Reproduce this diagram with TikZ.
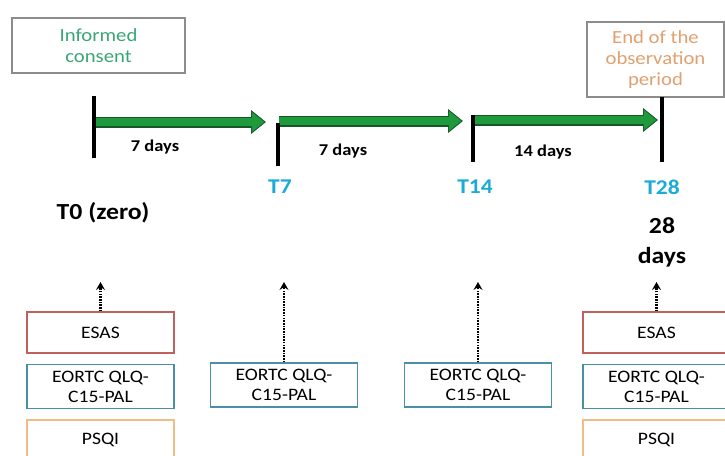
\documentclass[tikz,border=0pt]{standalone}
\usepackage{fontspec}
\setmainfont[FakeStretch=1.12]{Carlito}
\usetikzlibrary{positioning,arrows.meta}
\definecolor{consentgreen}{HTML}{3AA676}
\definecolor{endorange}{HTML}{E0A070}
\definecolor{tcyan}{HTML}{1AACD6}
\definecolor{spangreen}{HTML}{1E9A3C}
\definecolor{spandark}{HTML}{14582A}
\definecolor{esasred}{HTML}{C0605C}
\definecolor{qlqblue}{HTML}{4A8FA6}
\definecolor{psqiorange}{HTML}{F2BC88}
\definecolor{framegray}{HTML}{8C8C8C}

\begin{document}
\begin{tikzpicture}[x=1pt, y=-1pt,
		tickline/.style={line width=4pt},
		spanedge/.style={line width=11pt, spandark, -{Triangle[length=15pt,width=23pt]}},
		spanfill/.style={line width=8pt, spangreen, shorten >=1.6pt, -{Triangle[length=12.5pt,width=19pt]}},
		probe/.style={dash pattern=on 1.6pt off 1.1pt, line width=2.6pt,
			-{Stealth[length=8pt,width=9pt,inset=3pt]}},
		daylabel/.style={font=\fontsize{16.5}{19}\selectfont\bfseries},
		tlabel/.style={font=\fontsize{21}{24}\selectfont\bfseries, text=tcyan},
		biglabel/.style={font=\fontsize{23}{30}\selectfont\bfseries, align=center},
		scalebox/.style={draw, line width=1.4pt, minimum width=147pt, inner sep=0pt, align=center,
			font=\fontsize{17.5}{20}\selectfont},
		esasbox/.style={scalebox, draw=esasred, minimum height=41pt},
		qlqbox/.style={scalebox, draw=qlqblue, minimum height=44pt},
		psqibox/.style={scalebox, draw=psqiorange, minimum height=41pt}]
	\useasboundingbox (0,0) rectangle (725,455);
	\clip (0,0) rectangle (725,455);

	% top boxes
	\node[draw=framegray, line width=1.1pt, minimum width=173pt, minimum height=55pt, align=center,
		text=consentgreen, font=\fontsize{18.5}{21}\selectfont] (consent) at (98.5,45.5) {Informed\\consent};
	\node[draw=framegray, line width=1.1pt, minimum width=137pt, minimum height=75pt, align=center,
		text=endorange, font=\fontsize{18.5}{21}\selectfont] (endobs) at (655.5,59.5) {End of the\\observation\\period};

	% time line
	\coordinate (t0top) at (94,96);   \coordinate (t0bot) at (94,158);
	\coordinate (t7top) at (278,123); \coordinate (t7bot) at (278,166);
	\coordinate (t14top) at (473,115); \coordinate (t14bot) at (473,162);
	\coordinate (t28top) at (662,97); \coordinate (t28bot) at (662,162);
	\coordinate (s0) at (94,122);  \coordinate (e0) at (266,122);
	\coordinate (s1) at (279,121); \coordinate (e1) at (463,121);
	\coordinate (s2) at (475,120); \coordinate (e2) at (658,120);
	\foreach \a/\b in {s0/e0, s1/e1, s2/e2} {
		\draw[spanedge] (\a) -- (\b);
		\draw[spanfill] (\a) -- (\b);
	}
	\foreach \t in {t0, t7, t14, t28}
		\draw[tickline] (\t top) -- (\t bot);

	\node[daylabel] (d1) at (155,147) {7 days};
	\node[daylabel] (d2) at (343,151) {7 days};
	\node[daylabel] (d3) at (543,152) {14 days};
	\node[tlabel] (lt7) at (280,187) {T7};
	\node[tlabel] (lt14) at (475,187) {T14};
	\node[tlabel] (lt28) at (662,187) {T28};
	\node[biglabel] (lt0) at (103,213) {T0 (zero)};
	\node[biglabel] (l28) at (662,242) {28\\days};

	% questionnaires
	\node[esasbox] (esasA) at (100.5,332.5) {ESAS};
	\node[qlqbox, below=10pt of esasA] (qlqA) {EORTC QLQ-\\C15-PAL};
	\node[psqibox, below=10pt of qlqA] (psqiA) {PSQI};
	\node[qlqbox] (qlqB) at (284,385) {EORTC QLQ-\\C15-PAL};
	\node[qlqbox] (qlqC) at (478,385) {EORTC QLQ-\\C15-PAL};
	\node[esasbox] (esasD) at (656.5,332.5) {ESAS};
	\node[qlqbox, below=10pt of esasD] (qlqD) {EORTC QLQ-\\C15-PAL};
	\node[psqibox, below=10pt of qlqD] (psqiD) {PSQI};

	\coordinate (pA) at (100.5,282);
	\coordinate (pB) at (284,282);
	\coordinate (pC) at (478,282);
	\coordinate (pD) at (656.5,282);
	\draw[probe] (esasA) -- (pA);
	\draw[probe] (qlqB) -- (pB);
	\draw[probe] (qlqC) -- (pC);
	\draw[probe] (esasD) -- (pD);
\end{tikzpicture}
\end{document}
